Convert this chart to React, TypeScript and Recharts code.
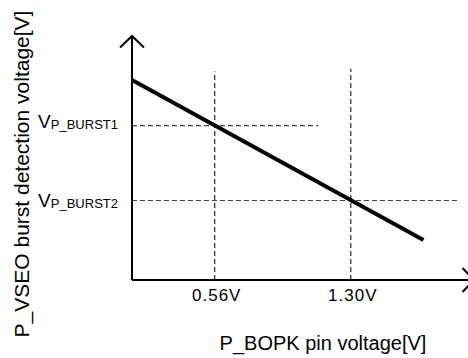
import { LineChart, Line, XAxis, YAxis, ReferenceLine } from 'recharts';

// P_BOPK pin voltage [V] vs. burst detection voltage (arbitrary vertical units)
const lineX = [0.11, 1.695];
const lineY = [8.2, 1.64];

const xTicks = [0.56, 1.3];
const xTickLabels = ['0.56V', '1.30V'];
const xGuideTop = [8.55, 8.66];

const yTicks = [3.26, 6.32];
const yTickSubs = ['P_BURST2', 'P_BURST1'];
const yGuideEnd = [1.886, 1.123];

const X_MIN = 0.11;
const X_MAX = 1.97;

const data = lineX.map((x, i) => ({ x, y: lineY[i] }));

const FONT = '"Liberation Sans", Arial, sans-serif';
const DASH = '5 3';

// small vertical nudges so the labels sit where the reference puts them
const yLabelDy: Record<string, number> = { P_BURST1: 2, P_BURST2: 7 };

function XTick({ x, y, payload }: any) {
    const i = xTicks.indexOf(payload.value);
    return (
        <text x={x + 2} y={y} dy={13} textAnchor="middle" fontFamily={FONT} fontSize={17} letterSpacing={1} fill="#000">
            {xTickLabels[i] ?? payload.value}
        </text>
    );
}

function YTick({ x, y, payload }: any) {
    const i = yTicks.indexOf(payload.value);
    const sub = yTickSubs[i] ?? '';
    return (
        <text x={x - 6} y={y + (yLabelDy[sub] ?? 2)} textAnchor="end" fontFamily={FONT} fontSize={19} fill="#000">
            V
            <tspan fontSize={13} dy={1}>{sub}</tspan>
        </text>
    );
}

export default function App() {
    return (
        <div style={{ position: 'absolute', left: 0, top: 0, width: 468, height: 358, overflow: 'hidden', background: '#fff' }}>
            <LineChart width={476} height={358} data={data} margin={{ top: 36, right: 2, left: 0, bottom: 0 }}>
                <defs>
                    <marker
                        id="axisArrow"
                        markerUnits="userSpaceOnUse"
                        markerWidth={30}
                        markerHeight={30}
                        refX={0}
                        refY={0}
                        orient="auto-start-reverse"
                        overflow="visible"
                    >
                        <path d="M -11.5 -12 L 0 0 L -11.5 12" fill="none" stroke="#000" strokeWidth={2} />
                    </marker>
                </defs>
                <XAxis
                    type="number"
                    dataKey="x"
                    domain={[X_MIN, X_MAX]}
                    allowDataOverflow
                    ticks={xTicks}
                    tick={XTick}
                    tickLine={false}
                    height={78}
                    axisLine={{ stroke: '#000', strokeWidth: 2, markerEnd: 'url(#axisArrow)' }}
                />
                <YAxis
                    type="number"
                    domain={[0, 10]}
                    allowDataOverflow
                    ticks={yTicks}
                    tick={YTick}
                    tickLine={false}
                    width={132}
                    axisLine={{ stroke: '#000', strokeWidth: 2, markerStart: 'url(#axisArrow)' }}
                />
                {xTicks.map((v, i) => (
                    <ReferenceLine
                        key={`vx${i}`}
                        segment={[{ x: v, y: 0 }, { x: v, y: xGuideTop[i] }]}
                        stroke="#111"
                        strokeWidth={1.1}
                        strokeDasharray={DASH}
                    />
                ))}
                {yTicks.map((v, i) => (
                    <ReferenceLine
                        key={`hy${i}`}
                        segment={[{ x: X_MIN, y: v }, { x: yGuideEnd[i], y: v }]}
                        stroke={i === 0 ? '#444' : '#111'}
                        strokeWidth={1.1}
                        strokeDasharray={DASH}
                    />
                ))}
                <Line
                    type="linear"
                    dataKey="y"
                    stroke="#000"
                    strokeWidth={4}
                    dot={false}
                    activeDot={false}
                    isAnimationActive={false}
                />
                <text
                    x={29}
                    y={174}
                    transform="rotate(-90 29 174)"
                    textAnchor="middle"
                    fontFamily={FONT}
                    fontSize={21}
                    fill="#000"
                >
                    P_VSEO burst detection voltage[V]
                </text>
                <text x={323} y={350} textAnchor="middle" fontFamily={FONT} fontSize={20} fill="#000">
                    P_BOPK pin voltage[V]
                </text>
            </LineChart>
        </div>
    );
}
